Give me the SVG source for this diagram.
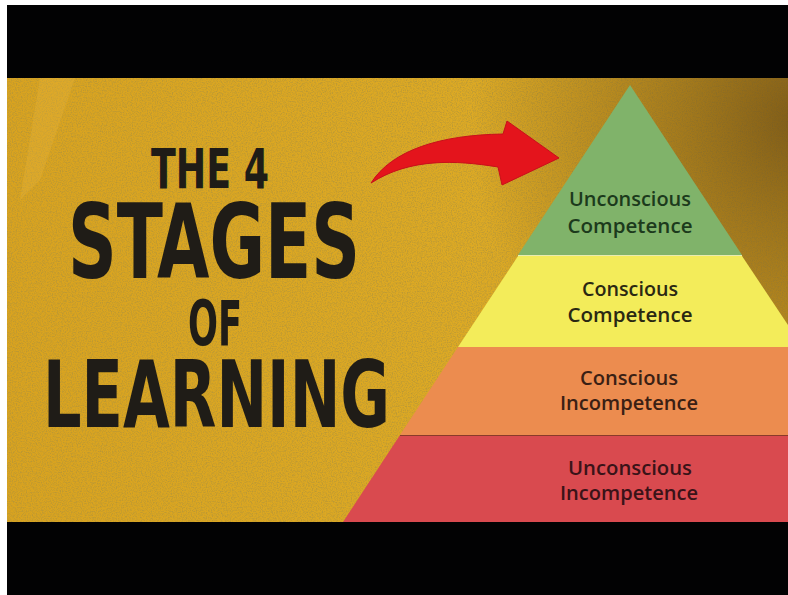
<svg xmlns="http://www.w3.org/2000/svg" width="788" height="595" viewBox="0 0 788 595">
  <defs>
    <style>
      .title { font-family: "DejaVu Sans Condensed", "DejaVu Sans", "Liberation Sans", sans-serif; font-weight: bold; fill: #1f1c17; }
      .lbl { font-family: "Open Sans", "Liberation Sans", sans-serif; font-weight: 600; font-size: 19.5px; text-anchor: middle; }
    </style>
    <radialGradient id="shade" cx="800" cy="120" r="330" gradientUnits="userSpaceOnUse">
      <stop offset="0" stop-color="#4e3410" stop-opacity="0.6"/>
      <stop offset="0.55" stop-color="#6a4a12" stop-opacity="0.3"/>
      <stop offset="1" stop-color="#6a4a12" stop-opacity="0"/>
    </radialGradient>
    <linearGradient id="gold" x1="0" y1="0" x2="1" y2="0">
      <stop offset="0" stop-color="#d9a31f"/>
      <stop offset="0.6" stop-color="#ddaa24"/>
      <stop offset="1" stop-color="#cc9a22"/>
    </linearGradient>
    <filter id="grain" x="0" y="0" width="100%" height="100%">
      <feTurbulence type="fractalNoise" baseFrequency="0.8" numOctaves="2" seed="3" result="n"/>
      <feColorMatrix type="matrix" values="0 0 0 0 0.4  0 0 0 0 0.28  0 0 0 0 0.05  0 0 0 -2.6 1.55"/>
    </filter>
    <clipPath id="goldClip"><rect x="7" y="78" width="781" height="444"/></clipPath>
  </defs>

  <rect width="788" height="595" fill="#ffffff"/>
  <rect x="7" y="5" width="781" height="590" fill="#020203"/>

  <g id="background" clip-path="url(#goldClip)">
    <rect x="7" y="78" width="781" height="444" fill="url(#gold)"/>
    <rect x="7" y="78" width="781" height="444" filter="url(#grain)" opacity="0.6"/>
    <rect x="7" y="78" width="781" height="444" fill="url(#shade)"/>
    <path d="M40,78 L75,78 L40,180 L20,200 Z" fill="#e8b640" opacity="0.3"/>
  </g>

  <g id="title">
    <text class="title"><tspan x="151" y="188" font-size="56" textLength="118" lengthAdjust="spacingAndGlyphs">THE 4</tspan><tspan x="68" y="278" font-size="104" textLength="292" lengthAdjust="spacingAndGlyphs">STAGES</tspan><tspan x="188" y="345" font-size="62" textLength="54" lengthAdjust="spacingAndGlyphs">OF</tspan><tspan x="43" y="427" font-size="92" textLength="347" lengthAdjust="spacingAndGlyphs">LEARNING</tspan></text>
  </g>

  <g id="connectors">
    <path id="arrow" d="M371,183 C392,150 440,135 503,134 L507,121 L559,158 L502,185 L498,167 C455,160 410,158 371,183 Z" fill="#e4141c" stroke="#c8101a" stroke-width="1"/>
  </g>

  <g id="level-unconscious-competence">
    <polygon points="630,85 742,255 518,255" fill="#80b36a"/>
    <text class="lbl" x="630" y="206" fill="#1c3a1c" textLength="122" lengthAdjust="spacingAndGlyphs">Unconscious</text>
    <text class="lbl" x="630" y="233" fill="#1c3a1c" textLength="125" lengthAdjust="spacingAndGlyphs">Competence</text>
  </g>

  <g id="level-conscious-competence">
    <polygon points="518,256 742,256 788,325 788,347 458,347" fill="#f3ec5a"/>
    <line x1="518" y1="255.5" x2="742" y2="255.5" stroke="#e8ecb0" stroke-width="1.2"/>
    <text class="lbl" x="630" y="296" fill="#2a2812" textLength="96" lengthAdjust="spacingAndGlyphs">Conscious</text>
    <text class="lbl" x="630" y="322" fill="#2a2812" textLength="125" lengthAdjust="spacingAndGlyphs">Competence</text>
  </g>

  <g id="level-conscious-incompetence">
    <polygon points="458,347 788,347 788,435 400,435" fill="#ec8c4f"/>
    <text class="lbl" x="629" y="385" fill="#3a2014" textLength="98" lengthAdjust="spacingAndGlyphs">Conscious</text>
    <text class="lbl" x="629" y="410" fill="#3a2014" textLength="138" lengthAdjust="spacingAndGlyphs">Incompetence</text>
  </g>

  <g id="level-unconscious-incompetence">
    <polygon points="400,435 788,435 788,522 343,522" fill="#d94a4f"/>
    <line x1="400" y1="435.5" x2="788" y2="435.5" stroke="#8a3a2a" stroke-width="1"/>
    <text class="lbl" x="630" y="475" fill="#3a1318" textLength="124" lengthAdjust="spacingAndGlyphs">Unconscious</text>
    <text class="lbl" x="629" y="500" fill="#3a1318" textLength="138" lengthAdjust="spacingAndGlyphs">Incompetence</text>
  </g>
</svg>
